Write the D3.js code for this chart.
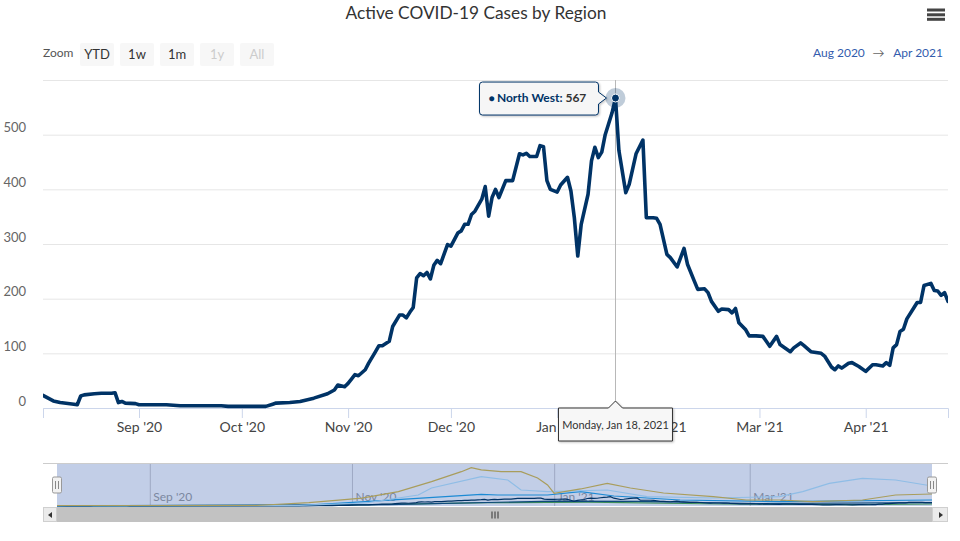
<!DOCTYPE html>
<html><head><meta charset="utf-8">
<script src="https://cdn.jsdelivr.net/npm/d3@7"></script>
<style>body{margin:0;background:#fff;} svg{display:block;font-family:Lato,"Open Sans",sans-serif;}</style>
</head><body><svg id="c" width="960" height="541"></svg>
<script>
// ---- main series: North West active cases ----
const dates = ["2020-08-04","2020-08-07","2020-08-09","2020-08-13","2020-08-14","2020-08-15","2020-08-16","2020-08-19","2020-08-21","2020-08-24","2020-08-25","2020-08-26","2020-08-27","2020-08-28","2020-08-31",
"2020-09-01","2020-09-04","2020-09-09","2020-09-13","2020-09-25","2020-09-27",
"2020-10-03","2020-10-08","2020-10-10","2020-10-11","2020-10-15","2020-10-18","2020-10-22","2020-10-26","2020-10-28","2020-10-29","2020-10-31",
"2020-11-01","2020-11-03","2020-11-04","2020-11-06","2020-11-07","2020-11-09","2020-11-10","2020-11-11","2020-11-13","2020-11-14","2020-11-16","2020-11-17","2020-11-18","2020-11-19","2020-11-20","2020-11-21","2020-11-22","2020-11-23","2020-11-24","2020-11-25","2020-11-26","2020-11-27","2020-11-28","2020-11-30",
"2020-12-01","2020-12-03","2020-12-04","2020-12-05","2020-12-06","2020-12-07","2020-12-08","2020-12-10","2020-12-11","2020-12-12","2020-12-13","2020-12-14","2020-12-15","2020-12-17","2020-12-19","2020-12-21","2020-12-22","2020-12-23","2020-12-24","2020-12-26","2020-12-27","2020-12-28","2020-12-29","2020-12-30",
"2021-01-01","2021-01-02","2021-01-04","2021-01-05","2021-01-06","2021-01-07","2021-01-08","2021-01-10","2021-01-11","2021-01-12","2021-01-13","2021-01-14","2021-01-15","2021-01-16","2021-01-17","2021-01-18","2021-01-19","2021-01-21","2021-01-22","2021-01-24","2021-01-26","2021-01-27","2021-01-29","2021-01-30","2021-01-31",
"2021-02-02","2021-02-03","2021-02-05","2021-02-07","2021-02-08","2021-02-10","2021-02-11","2021-02-13","2021-02-14","2021-02-15","2021-02-17","2021-02-18","2021-02-20","2021-02-21","2021-02-22","2021-02-23","2021-02-25","2021-02-26","2021-02-28",
"2021-03-02","2021-03-03","2021-03-04","2021-03-06","2021-03-07","2021-03-10","2021-03-11","2021-03-13","2021-03-14","2021-03-16","2021-03-19","2021-03-20","2021-03-22","2021-03-23","2021-03-24","2021-03-25","2021-03-27","2021-03-28","2021-03-30",
"2021-04-01","2021-04-03","2021-04-04","2021-04-06","2021-04-07","2021-04-08","2021-04-09","2021-04-10","2021-04-11","2021-04-12","2021-04-13","2021-04-15","2021-04-16","2021-04-17","2021-04-18","2021-04-20","2021-04-21","2021-04-22","2021-04-23","2021-04-24","2021-04-25"];
const northWest = [23,13,10,7,6,22,24,26,27,27,28,10,12,9,8,
6,6,6,4,4,3,
3,3,7,9,10,12,18,26,33,42,39,
45,61,59,70,82,103,114,114,122,149,170,170,165,175,184,238,246,242,248,236,261,270,264,299,
296,320,324,336,336,354,360,382,405,351,385,400,385,416,416,465,463,466,460,460,480,478,416,400,
395,408,422,397,348,278,336,391,452,477,458,468,500,520,540,567,471,394,409,465,490,348,348,347,336,
281,275,258,292,263,232,217,218,211,195,177,181,180,174,182,156,143,132,132,
131,122,113,131,116,103,110,119,114,103,100,95,75,70,77,73,82,83,76,
67,79,79,77,83,78,110,116,140,144,163,183,193,193,224,228,215,214,206,211,195];

const seriesName = "North West";
const hoverDate = "2021-01-18";
const yTickValues = [0,100,200,300,400,500,600];
const zoomButtons = ["YTD","1w","1m","1y","All"];
const zoomEnabled = [true,true,true,false,false];
const rangeFrom = "Aug 2020", rangeTo = "Apr 2021";
const title = "Active COVID-19 Cases by Region";

// ---- navigator-only series (other regions, read roughly) ----
const navOliveDates = ["2020-08-04","2020-10-03","2020-10-19","2020-10-28","2020-11-04","2020-11-15","2020-11-25","2020-12-04","2020-12-07","2020-12-10","2020-12-16","2020-12-22","2020-12-27","2020-12-30","2021-01-01","2021-01-09","2021-01-17","2021-01-24","2021-02-03","2021-02-18","2021-02-28","2021-03-10","2021-03-20","2021-04-04","2021-04-14","2021-04-25"];
const navOliveValues = [30,30,200,360,480,865,1470,2075,2317,2180,2075,2075,1694,1270,768,1030,1373,1090,787,563,363,363,260,363,665,726];
const navLightDates = ["2020-08-04","2020-10-16","2020-11-05","2020-11-21","2020-11-25","2020-12-10","2020-12-18","2020-12-22","2020-12-30","2021-01-17","2021-01-29","2021-02-18","2021-03-10","2021-03-17","2021-03-25","2021-04-04","2021-04-14","2021-04-25"];
const navLightValues = [20,40,180,665,1089,1775,1573,968,865,968,563,484,563,865,1371,1674,1573,1210];
const navBlueDates = ["2020-08-04","2020-10-16","2020-11-05","2020-12-10","2020-12-15","2020-12-30","2021-01-09","2021-01-19","2021-02-08","2021-03-10","2021-04-25"];
const navBlueValues = [10,20,260,708,665,665,865,605,363,260,363];
const navGreenDates = ["2020-08-04","2020-11-01","2020-12-12","2021-01-11","2021-02-21","2021-04-01","2021-04-25"];
const navGreenValues = [5,60,200,240,120,80,120];
const navNavyDates = ["2020-08-04","2020-11-12","2021-01-01","2021-01-26","2021-03-03","2021-04-25"];
const navNavyValues = [5,80,300,280,150,200];

const parse = d3.timeParse("%Y-%m-%d");
const toPts = (ds, vs) => ds.map((d,i)=>({date:parse(d), v:vs[i]}));
const mainData = toPts(dates, northWest);

const svg = d3.select("#c");
const P = {left:43, right:948, top:80, bottom:408};
const x = d3.scaleTime().domain(d3.extent(mainData,d=>d.date)).range([P.left,P.right]);
const y = d3.scaleLinear().domain([0,600]).range([P.bottom,P.top]);

// title
svg.append("text").attr("x",476).attr("y",18.5).attr("text-anchor","middle")
  .attr("font-size",17.3).attr("fill","#333").text(title);
// menu icon
[8.5,13.3,17.8].forEach(yy=>svg.append("rect").attr("x",927).attr("y",yy).attr("width",18).attr("height",3).attr("fill","#444"));

// range selector
svg.append("text").attr("x",43).attr("y",57).attr("font-size",12).attr("fill","#555").text("Zoom");
const bg = svg.append("g").selectAll("g").data(zoomButtons).join("g")
  .attr("transform",(d,i)=>`translate(${80+i*40},43)`);
bg.append("rect").attr("width",34).attr("height",23).attr("rx",2).attr("fill","#f7f7f7");
bg.append("text").attr("x",17).attr("y",16).attr("text-anchor","middle").attr("font-size",13)
  .attr("fill",(d,i)=>zoomEnabled[i]?"#333":"#ccc").text(d=>d);
svg.append("text").attr("x",813).attr("y",57).attr("font-size",12).attr("fill","#335cad").text(rangeFrom);
svg.append("text").attr("x",878.5).attr("y",57).attr("text-anchor","middle").attr("font-size",12).attr("fill","#666").text("\u2192");
svg.append("text").attr("x",943).attr("y",57).attr("text-anchor","end").attr("font-size",12).attr("fill","#335cad").text(rangeTo);

// y axis + grid
const yAxis = svg.append("g").attr("transform",`translate(${P.left},0)`)
  .call(d3.axisLeft(y).tickValues(yTickValues).tickSize(-(P.right-P.left)).tickFormat(d=>d===600?"":d));
yAxis.select(".domain").remove();
yAxis.selectAll(".tick line").attr("stroke","#e6e6e6");
yAxis.selectAll(".tick text").attr("x",-17).attr("dy","0").attr("y",-3).attr("text-anchor","end")
  .attr("font-size",13).attr("fill","#666").attr("font-family","Lato");

// x axis
const xAxis = svg.append("g").attr("transform",`translate(0,${P.bottom})`)
  .call(d3.axisBottom(x).ticks(d3.timeMonth.every(1)).tickFormat(d3.timeFormat("%b '%y")).tickSize(10).tickPadding(4));
xAxis.select(".domain").attr("stroke","#ccd6eb");
xAxis.selectAll(".tick line").attr("stroke","#ccd6eb");
xAxis.selectAll(".tick text").attr("font-size",14).attr("fill","#444").attr("font-family","Lato");

// crosshair
const hd = parse(hoverDate);
const hp = mainData.find(d=>+d.date===+hd);
const hx = x(hp.date), hy = y(hp.v);
svg.append("line").attr("x1",Math.round(hx)+0.5).attr("x2",Math.round(hx)+0.5).attr("y1",P.top).attr("y2",P.bottom)
  .attr("stroke","#b8b8b8").attr("stroke-width",1);

// main line
svg.append("defs").append("clipPath").attr("id","clip").append("rect")
  .attr("x",P.left).attr("y",P.top-10).attr("width",P.right-P.left).attr("height",P.bottom-P.top+12);
svg.append("path").datum(mainData).attr("clip-path","url(#clip)")
  .attr("d",d3.line().x(d=>x(d.date)).y(d=>y(d.v)))
  .attr("fill","none").attr("stroke","#003366").attr("stroke-width",3.6)
  .attr("stroke-linejoin","round").attr("stroke-linecap","round");

// halo + marker
svg.append("circle").attr("cx",hx).attr("cy",hy).attr("r",10).attr("fill","rgba(0,51,102,0.25)");
svg.append("circle").attr("cx",hx).attr("cy",hy).attr("r",4).attr("fill","#003366").attr("stroke","#fff").attr("stroke-width",1);

// filter for shadow
const f = svg.select("defs").append("filter").attr("id","sh").attr("x","-20%").attr("y","-20%").attr("width","140%").attr("height","150%");
f.append("feDropShadow").attr("dx",1).attr("dy",1).attr("stdDeviation",1.2).attr("flood-color","#000").attr("flood-opacity",0.25);

// series tooltip (callout pointing right)
{
  const r = hx-17, l = r-119, t = hy-16, b = hy+17;
  const path = `M${l+3},${t} H${r-3} Q${r},${t} ${r},${t+3} V${hy-6} L${hx-9},${hy} L${r},${hy+6} V${b-3} Q${r},${b} ${r-3},${b} H${l+3} Q${l},${b} ${l},${b-3} V${t+3} Q${l},${t} ${l+3},${t} Z`;
  svg.append("path").attr("d",path).attr("fill","rgba(247,247,247,0.92)").attr("stroke","#003366").attr("stroke-width",1).attr("filter","url(#sh)");
  const tt = svg.append("text").attr("x",l+9).attr("y",hy+4).attr("font-size",12).attr("font-weight","bold");
  tt.append("tspan").attr("fill","#003366").attr("font-size",10).text("\u25CF ");
  tt.append("tspan").attr("fill","#003366").text(seriesName+": ");
  tt.append("tspan").attr("fill","#333").text(hp.v);
}

// x-axis date tooltip
{
  const w = 114, l = hx-w/2, t = P.bottom, b = P.bottom+33;
  const path = `M${l},${t} H${hx-7} L${hx},${t-7} L${hx+7},${t} H${l+w} V${b} H${l} Z`;
  svg.append("path").attr("d",path).attr("fill","#f7f7f7").attr("stroke","#333").attr("stroke-width",1).attr("filter","url(#sh)");
  svg.append("text").attr("x",hx).attr("y",t+20.5).attr("text-anchor","middle").attr("font-size",11).attr("fill","#333")
    .text(d3.timeFormat("%A, %b %-d, %Y")(hd));
}

// ---- navigator ----
const N = {left:43, right:948, top:463, bottom:506, maskL:57, maskR:932};
const xn = d3.scaleTime().domain(x.domain()).range([N.maskL,N.maskR]);
const yn = d3.scaleLinear().domain([0,2600]).range([N.bottom,N.top]);
svg.append("rect").attr("x",N.maskL).attr("y",N.top).attr("width",N.maskR-N.maskL).attr("height",N.bottom-N.top)
  .attr("fill","rgba(102,133,194,0.4)");
const navTickVals = d3.timeMonth.range(x.domain()[0], x.domain()[1]).filter(d=>[8,10,0,2].includes(d.getMonth()));
const nAxis = svg.append("g").attr("transform",`translate(0,${N.bottom})`)
  .call(d3.axisTop(xn).tickValues(navTickVals).tickSize(N.bottom-N.top).tickFormat(d3.timeFormat("%b '%y")));
nAxis.select(".domain").remove();
nAxis.selectAll(".tick line").attr("stroke","#9ea9c4");
nAxis.selectAll(".tick text").attr("text-anchor","start").attr("x",3).attr("y",-5).attr("dy","0")
  .attr("font-size",12).attr("fill","#7b879f").attr("font-family","Lato");

const navLine = d3.line().x(d=>xn(d.date)).y(d=>yn(d.v));
const navSeries = [
  {pts:toPts(navGreenDates,navGreenValues), color:"#3f8f5a"},
  {pts:toPts(navNavyDates,navNavyValues), color:"#0e4a7c"},
  {pts:toPts(navBlueDates,navBlueValues), color:"#1c8ad4"},
  {pts:mainData, color:"#003366"},
  {pts:toPts(navLightDates,navLightValues), color:"#8fbde6"},
  {pts:toPts(navOliveDates,navOliveValues), color:"#a99d5c"}
];
navSeries.forEach(s=>svg.append("path").datum(s.pts).attr("d",navLine).attr("fill","none")
  .attr("stroke",s.color).attr("stroke-width",1.2));
svg.append("line").attr("x1",N.left).attr("x2",N.right).attr("y1",N.top+0.5).attr("y2",N.top+0.5).attr("stroke","#cccccc");

// handles
[N.maskL,N.maskR].forEach(hxp=>{
  const g = svg.append("g").attr("transform",`translate(${hxp},477)`);
  g.append("rect").attr("x",-4.5).attr("y",0).attr("width",9).attr("height",16).attr("rx",1.5).attr("fill","#f2f2f2").attr("stroke","#999");
  [-1.5,1.5].forEach(o=>g.append("line").attr("x1",o).attr("x2",o).attr("y1",4).attr("y2",12).attr("stroke","#888"));
});

// scrollbar
const S = {top:507, h:15};
svg.append("rect").attr("x",N.left).attr("y",S.top).attr("width",N.right-N.left).attr("height",S.h).attr("fill","#f2f2f2");
svg.append("rect").attr("x",N.maskL).attr("y",S.top).attr("width",N.maskR-N.maskL).attr("height",S.h).attr("fill","#c2c2c2");
[[N.left,N.maskL],[N.maskR,N.right]].forEach(([a,b])=>svg.append("rect").attr("x",a+0.5).attr("y",S.top+0.5).attr("width",b-a-1).attr("height",S.h-1)
  .attr("fill","#ebebeb").attr("stroke","#cfcfcf"));
svg.append("path").attr("d",`M52,512 L48,515 L52,518 Z`).attr("fill","#333");
svg.append("path").attr("d",`M939,512 L943,515 L939,518 Z`).attr("fill","#333");
const gc = (N.maskL+N.maskR)/2;
[-3,0,3].forEach(o=>svg.append("line").attr("x1",gc+o+0.5).attr("x2",gc+o+0.5).attr("y1",511.5).attr("y2",518.5).attr("stroke","#333"));
</script></body></html>
